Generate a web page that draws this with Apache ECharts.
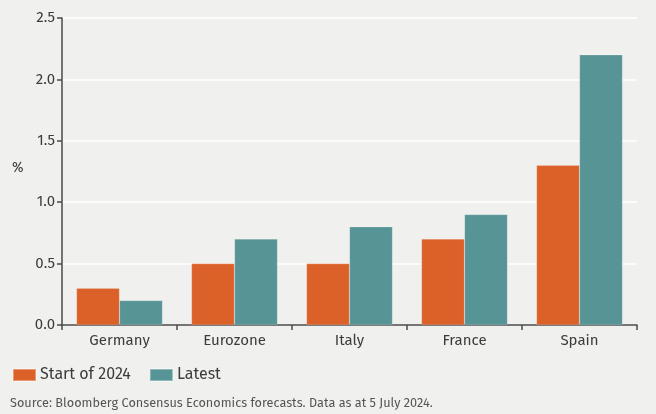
<!DOCTYPE html>
<html>
<head>
<meta charset="utf-8">
<script src="https://cdn.jsdelivr.net/npm/echarts@6/dist/echarts.min.js"></script>
<style>
  html, body { margin: 0; padding: 0; background: #ffffff; }
  #chart { width: 656px; height: 414px; }
</style>
</head>
<body>
<div id="chart"></div>
<script>
// Growth forecasts by economy, in percent
const categories = ['Germany', 'Eurozone', 'Italy', 'France', 'Spain'];
const startOf2024 = [0.3, 0.5, 0.5, 0.7, 1.3];
const latest = [0.2, 0.7, 0.8, 0.9, 2.2];
const seriesNames = ['Start of 2024', 'Latest'];
const sourceNote = 'Source: Bloomberg Consensus Economics forecasts. Data as at 5 July 2024.';

const FONT = '"Fira Sans", "Noto Sans", "Open Sans", sans-serif';
const ORANGE = '#dc6128';
const TEAL = '#579496';
const AXIS = '#4a4a4a';
const TEXT = '#3c3c3c';

const chart = echarts.init(document.getElementById('chart'), null, { renderer: 'canvas' });

chart.setOption({
  backgroundColor: '#f0f0ee',
  animation: false,
  textStyle: { fontFamily: FONT },
  grid: { left: 62, right: 19, top: 18, bottom: 89, containLabel: false },
  legend: {
    left: 7,
    top: 362,
    padding: 5,
    itemWidth: 23,
    itemHeight: 12,
    itemGap: 18,
    icon: 'rect',
    data: seriesNames,
    textStyle: { fontFamily: FONT, fontSize: 16, color: TEXT, padding: [0, 0, 0, -1] }
  },
  graphic: [
    {
      type: 'text', left: 12, top: 161,
      style: { text: '%', font: '14px ' + FONT, fill: TEXT }
    },
    {
      type: 'text', left: 10, top: 397,
      style: { text: sourceNote, font: '12.7px ' + FONT, fill: '#555555' }
    }
  ],
  xAxis: {
    type: 'category',
    data: categories,
    axisLine: { lineStyle: { color: AXIS, width: 1.5 } },
    axisTick: { show: true, length: 5, lineStyle: { color: AXIS, width: 1.5 } },
    axisLabel: { fontFamily: FONT, fontSize: 15, color: TEXT, margin: 8 }
  },
  yAxis: {
    type: 'value',
    min: 0,
    max: 2.5,
    interval: 0.5,
    axisLine: { show: true, lineStyle: { color: AXIS, width: 1.5 } },
    axisTick: { show: true, length: 5, lineStyle: { color: AXIS, width: 1.5 } },
    axisLabel: {
      fontFamily: FONT, fontSize: 15, color: TEXT, margin: 7,
      formatter: v => v.toFixed(1)
    },
    splitLine: { show: true, lineStyle: { color: '#ffffff', width: 1.5 } }
  },
  series: [
    {
      name: seriesNames[0],
      type: 'bar',
      data: startOf2024,
      barWidth: 43,
      barGap: '0%',
      itemStyle: { color: ORANGE, borderColor: 'rgba(255,255,255,0.35)', borderWidth: 0.5 }
    },
    {
      name: seriesNames[1],
      type: 'bar',
      data: latest,
      barWidth: 43,
      barGap: '0%',
      itemStyle: { color: TEAL, borderColor: 'rgba(255,255,255,0.35)', borderWidth: 0.5 }
    }
  ]
});
</script>
</body>
</html>
